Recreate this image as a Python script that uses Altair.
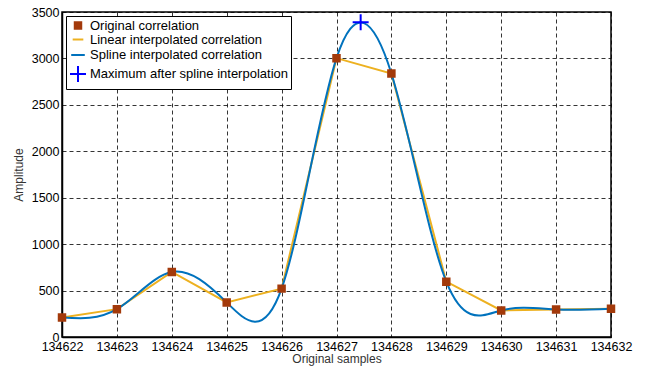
import altair as alt
import pandas as pd

# ---- data ----
samples = [134622, 134623, 134624, 134625, 134626, 134627, 134628, 134629, 134630, 134631, 134632]
amplitude = [211, 300, 700, 372, 521, 3003, 2838, 596, 286, 296, 304]
max_x = [134627.44]
max_y = [3390]

x_ticks = list(range(134622, 134633))
y_ticks = [0, 500, 1000, 1500, 2000, 2500, 3000, 3500]

series_names = [
    "Original correlation",
    "Linear interpolated correlation",
    "Spline interpolated correlation",
    "Maximum after spline interpolation",
]
series_stroke = ["#A33A0B", "#EDB120", "#0072BD", "#0000FF"]
series_fill = ["#A33A0B", "transparent", "transparent", "transparent"]
series_shape = ["square", "stroke", "stroke", "M-1,0H1M0,-1V1"]
series_size = [42, 256, 256, 196]

df_orig = pd.DataFrame({"x": samples, "y": amplitude, "series": series_names[0]})
df_lin = pd.DataFrame({"x": samples, "y": amplitude, "series": series_names[1]})
df_spl = pd.DataFrame({"x": samples, "y": amplitude, "series": series_names[2]})
df_max = pd.DataFrame({"x": max_x, "y": max_y, "series": series_names[3]})
df_pts = pd.concat([df_orig, df_max], ignore_index=True)

leg = alt.Legend(title=None)
stroke_scale = alt.Scale(domain=series_names, range=series_stroke)
fill_scale = alt.Scale(domain=series_names, range=series_fill)
shape_scale = alt.Scale(domain=series_names, range=series_shape)
size_scale = alt.Scale(domain=series_names, range=series_size)

x_enc = alt.X(
    "x:Q",
    scale=alt.Scale(domain=[134622, 134632], nice=False),
    axis=alt.Axis(values=x_ticks, format="d", title="Original samples",
                  labelOverlap=False, labelFlush=False),
)
y_enc = alt.Y(
    "y:Q",
    scale=alt.Scale(domain=[0, 3500], nice=False),
    axis=alt.Axis(values=y_ticks, format="d", title="Amplitude", labelFlush=False),
)

lin = alt.Chart(df_lin).mark_line(strokeWidth=2, clip=True).encode(
    x=x_enc, y=y_enc, stroke=alt.Stroke("series:N", scale=stroke_scale, legend=leg)
)
spl = alt.Chart(df_spl).mark_line(strokeWidth=2, interpolate="natural", clip=True).encode(
    x=x_enc, y=y_enc, stroke=alt.Stroke("series:N", scale=stroke_scale, legend=leg)
)
pts = alt.Chart(df_pts).mark_point(filled=True, strokeWidth=2, opacity=1).encode(
    x=x_enc,
    y=y_enc,
    stroke=alt.Stroke("series:N", scale=stroke_scale, legend=leg),
    fill=alt.Fill("series:N", scale=fill_scale, legend=leg),
    shape=alt.Shape("series:N", scale=shape_scale, legend=leg),
    size=alt.Size("series:N", scale=size_scale, legend=leg),
)

chart = (
    alt.layer(lin, spl, pts)
    .properties(
        width=549,
        height=325,
        autosize=alt.AutoSizeParams(type="none"),
        padding={"left": 54, "top": 4, "right": 26, "bottom": 31},
    )
    .configure_view(stroke="black", strokeWidth=1.5)
    .configure_axis(
        grid=True,
        gridColor="black",
        gridDash=[4, 3],
        gridWidth=0.8,
        gridOpacity=1,
        domainColor="black",
        domainWidth=1.5,
        tickSize=0,
        labelFont="Liberation Sans",
        labelFontSize=12.5,
        labelColor="black",
        labelPadding=3,
        titleFont="Liberation Sans",
        titleFontSize=12,
        titleFontWeight="normal",
        titleColor="#333333",
    )
    .configure_axisX(titlePadding=1)
    .configure_axisY(titlePadding=6)
    .configure_legend(
        orient="top-left",
        offset=4,
        fillColor="white",
        strokeColor="black",
        padding=3,
        labelFont="Liberation Sans",
        labelFontSize=13,
        labelColor="black",
        labelLimit=400,
        rowPadding=0,
        symbolStrokeWidth=2,
        symbolOpacity=1,
        labelOffset=3,
    )
)

chart.save("out.html", embed_options={"renderer": "svg", "actions": False})
